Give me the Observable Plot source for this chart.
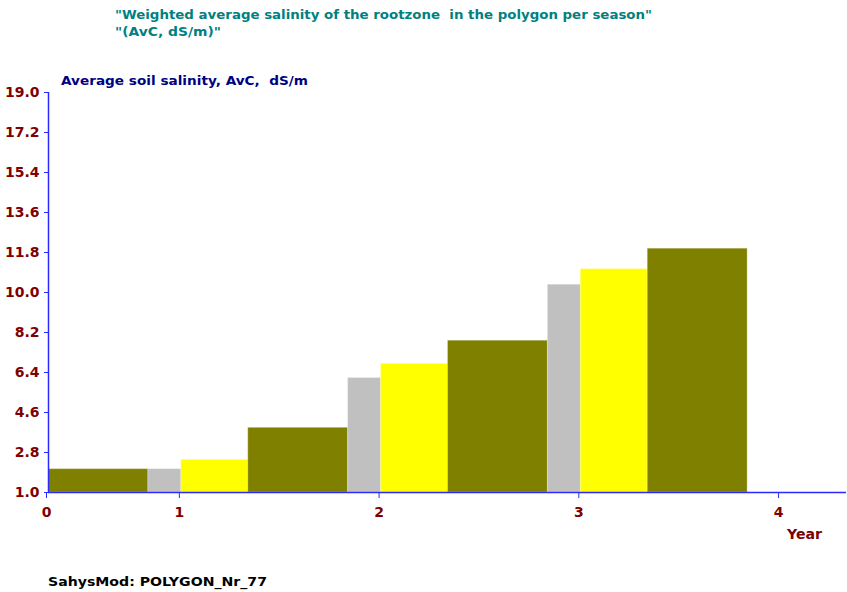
<!DOCTYPE html>
<html>
<head>
<meta charset="utf-8">
<script src="https://cdn.jsdelivr.net/npm/d3@7"></script>
<script src="https://cdn.jsdelivr.net/npm/@observablehq/plot@0.6"></script>
<style>
  html, body { margin: 0; padding: 0; background: #ffffff; }
  #wrap { position: relative; width: 847px; height: 592px; overflow: hidden; }
  #wrap > svg { position: absolute; left: 0; top: 0; }
  .ov text { font-family: "DejaVu Sans", sans-serif; font-weight: bold; white-space: pre; }
</style>
</head>
<body>
<div id="wrap"></div>
<script>
// ---- data ----
const seasonColors = ["#ffff00", "#808000", "#c0c0c0"];   // season 1, 2, 3
const seasonBounds = [0, 0.335, 0.835, 1.0];               // season limits as fraction of a year
const barYear   = [0, 0, 1, 1, 1, 2, 2, 2, 3, 3];
const barSeason = [1, 2, 0, 1, 2, 0, 1, 2, 0, 1];
const barValue  = [2.05, 2.05, 2.47, 3.91, 6.15, 6.79, 7.83, 10.35, 11.05, 11.97];
const yTicks = [1.0, 2.8, 4.6, 6.4, 8.2, 10.0, 11.8, 13.6, 15.4, 17.2, 19.0];
const xTickLabels = ["0", "1", "2", "3", "4"];
const xStart = seasonBounds[1];
const xEnd = 4.33;
const xTickValues = [xStart, 1, 2, 3, 4];

const bars = barValue.map((v, i) => ({
  x1: barYear[i] + seasonBounds[barSeason[i]],
  x2: barYear[i] + seasonBounds[barSeason[i] + 1],
  v,
  color: seasonColors[barSeason[i]]
}));

const axisBlue = "#2a2aff";
const tickRed = "#800000";

const chart = Plot.plot({
  width: 847,
  height: 592,
  marginLeft: 48,
  marginRight: 1,
  marginTop: 92,
  marginBottom: 100,
  style: { fontFamily: "DejaVu Sans, sans-serif", fontWeight: "bold", fontSize: "14px", background: "#ffffff" },
  x: { domain: [xStart, xEnd] },
  y: { domain: [1, 19] },
  marks: [
    Plot.rect(bars, { x1: "x1", x2: "x2", y1: 1, y2: "v", fill: "color", stroke: "#ffffff", strokeOpacity: 0.25, strokeWidth: 1 }),
    Plot.axisY(yTicks, {
      tickSize: 4, tickPadding: 5, stroke: axisBlue, fill: tickRed,
      fontSize: 14, fontWeight: "bold", tickFormat: d => d.toFixed(1), label: null
    }),
    Plot.axisX(xTickValues, {
      tickSize: 6, tickPadding: 9, stroke: axisBlue, fill: tickRed, dx: -2,
      fontSize: 14, fontWeight: "bold", tickFormat: (d, i) => xTickLabels[i], label: null
    }),
    Plot.ruleY([1], { stroke: axisBlue, strokeWidth: 1.5 }),
    Plot.ruleX([xStart], { stroke: axisBlue, strokeWidth: 1.5 })
  ]
});
document.getElementById("wrap").appendChild(chart);

// ---- overlay texts ----
const ns = "http://www.w3.org/2000/svg";
const ov = document.createElementNS(ns, "svg");
ov.setAttribute("class", "ov");
ov.setAttribute("width", 847);
ov.setAttribute("height", 592);
const texts = [
  { t: "\"Weighted average salinity of the rootzone  in the polygon per season\"", x: 115, y: 19, fill: "#008080", size: 13, len: 537 },
  { t: "\"(AvC, dS/m)\"", x: 115, y: 36, fill: "#008080", size: 13, len: 106 },
  { t: "Average soil salinity, AvC,  dS/m", x: 61, y: 85, fill: "#000080", size: 13, len: 247 },
  { t: "Year", x: 787, y: 539, fill: tickRed, size: 14, len: 35 },
  { t: "SahysMod: POLYGON_Nr_77", x: 48, y: 586, fill: "#000000", size: 13, len: 219 }
];
for (const d of texts) {
  const el = document.createElementNS(ns, "text");
  el.setAttribute("x", d.x);
  el.setAttribute("y", d.y);
  el.setAttribute("fill", d.fill);
  el.setAttribute("font-size", d.size);
  el.setAttribute("textLength", d.len);
  el.setAttribute("lengthAdjust", "spacingAndGlyphs");
  el.textContent = d.t;
  ov.appendChild(el);
}
document.getElementById("wrap").appendChild(ov);
</script>
</body>
</html>
